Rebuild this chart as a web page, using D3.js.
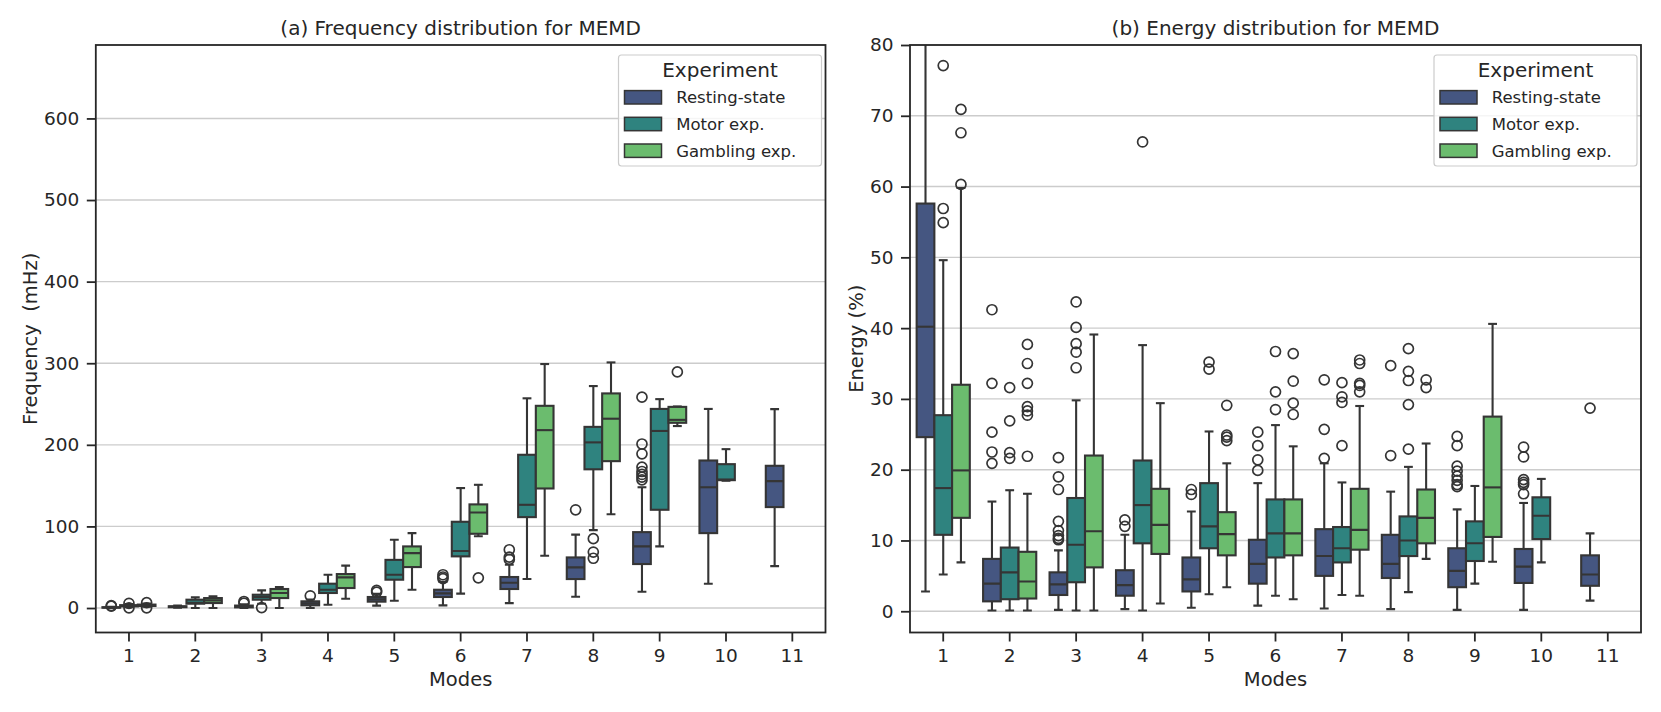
<!DOCTYPE html>
<html><head><meta charset="utf-8">
<script src="https://cdn.jsdelivr.net/npm/d3@7"></script>
<style>
body{margin:0;background:#fff}
text{font-family:"DejaVu Sans",sans-serif;fill:#262626}
</style>
</head><body>
<svg id="c" width="1661" height="712"></svg>
<script>
const modes = ["1","2","3","4","5","6","7","8","9","10","11"];
const experiments = ["Resting-state","Motor exp.","Gambling exp."];
const colors = ["#455681","#2f837f","#6bbc6e"];

// Box stats per mode: [lowWhisker, q1, median, q3, highWhisker]; null = no data
const freqResting = [[0.1,0.4,0.7,1.0,1.5],[0.5,1.0,1.5,2.2,3.0],[0,0.8,1.8,3.0,4.5],[0,3.3,5.7,8.2,10.5],[2.9,7.8,10.6,13.5,17.5],[3.3,13.5,18,22.4,32],[6,23.3,31,38,53],[13.9,35.5,49.8,62,90],[20,53.9,75.5,93,148],[29.8,91.8,148,180.8,244],[51.4,123.7,155.5,174.3,243.7]];
const freqMotor = [[1.0,2.0,2.8,3.5,5.0],[0,5.3,6.5,10.2,13],[5.3,10.2,13.5,16.3,21.6],[4,18.4,22.4,29.8,40.8],[9,34.7,40.8,59,83.7],[17.6,63.3,69.8,105.7,147],[35.5,111.4,126.5,187.8,257],[95.5,170,203,222,272],[75.5,120.4,217,244,256],[156,156.7,157.5,176.3,194.7],null];
const freqGambling = [[1.5,2.5,3.2,4.2,5.5],[0,6.1,9.4,12.2,14.3],[0,12.2,18.4,23.3,25.7],[11.4,24.5,37.6,41.6,52],[22.4,50.2,67.3,75.5,91.8],[88,91,117,127,151],[64,146.5,218,247.8,299],[115,180,232,263,301],[223,227,230.6,246.5,247],null,null];
const freqRestingOut = [[2.2,3.0],[],[6.0,8.0],[15],[19.5,21.6],[36,38,40.8],[59.6,62.4,71.4],[120.4],[157,160.4,163.7,167.3,172.7,189,201,258.4],[],[]];
const freqMotorOut = [[0.2,5.8],[],[0.5],[],[],[],[],[61,68.6,85],[],[],[]];
const freqGamblingOut = [[0.3,6.5],[],[],[],[],[37],[],[],[289.4],[],[]];
const freqTicks = [0,100,200,300,400,500,600];

const energyResting = [[2.8,24.6,40.2,57.6,95],[0.1,1.4,3.9,7.4,15.5],[0.2,2.3,3.8,5.5,8.6],[0.3,2.2,3.7,5.8,10.8],[0.5,2.8,4.5,7.6,14.1],[0.8,3.9,6.7,10.1,18.1],[0.4,5.0,7.8,11.6,20.9],[0.3,4.7,6.7,10.8,16.9],[0.2,3.4,5.7,8.9,14.4],[0.2,4.0,6.3,8.8,15.3],[1.5,3.6,5.2,7.9,11.0]];
const energyMotor = [[5.2,10.8,17.4,27.7,49.6],[0.1,1.7,5.5,9.0,17.1],[0.1,4.1,9.4,16.0,29.8],[0.1,9.6,15.0,21.3,37.6],[2.4,8.9,12.0,18.1,25.4],[2.2,7.6,11.0,15.8,26.3],[2.3,6.9,8.9,11.9,18.2],[2.7,7.8,10.0,13.4,20.4],[3.9,7.1,9.6,12.7,17.7],[6.9,10.2,13.5,16.1,18.7],null];
const energyGambling = [[6.9,13.2,19.9,32.0,59.8],[0.1,1.8,4.2,8.4,16.6],[0.1,6.2,11.3,22.0,39.1],[1.1,8.1,12.2,17.3,29.4],[3.4,7.9,10.9,14.0,20.9],[1.7,7.9,11.0,15.8,23.3],[2.2,8.7,11.5,17.3,29.0],[7.4,9.6,13.2,17.2,23.7],[7.0,10.5,17.5,27.5,40.6],null,null];
const energyRestingOut = [[],[20.9,22.5,25.3,32.2,42.6],[10.1,10.3,10.7,11.4,12.7,17.2,19.0,21.7],[12.0,12.9],[16.5,17.2],[19.9,21.4,23.4,25.3],[21.6,25.7,32.7],[22.0,34.7],[17.6,17.9,18.5,19.1,19.8,20.5,23.4,24.7],[16.6,17.9,18.2,18.6,21.8,23.2],[28.7]];
const energyMotorOut = [[54.9,56.9,77.1],[21.6,22.4,26.9,31.6],[34.4,36.6,37.8,40.1,43.7],[66.3],[34.2,35.2],[28.5,31.0,36.7],[23.4,29.5,30.3,32.3],[22.9,29.2,32.6,33.9,37.1],[],[],[]];
const energyGamblingOut = [[60.3,67.6,70.9],[21.9,27.7,28.3,28.9,32.2,35.0,37.7],[],[],[24.1,24.6,24.9,29.1],[27.8,29.4,32.5,36.4],[31.0,31.9,32.2,35.0,35.5],[31.6,32.7],[],[],[]];
const energyTicks = [0,10,20,30,40,50,60,70,80];

const svg = d3.select("#c");
const LINE = "#353535", AX = "#262626";

function panel(cfg, idx){
  const {x0,x1,y0,y1} = cfg;
  const g = svg.append("g");
  const x = d3.scaleBand().domain(modes).range([x0,x1]).paddingInner(0.2).paddingOuter(0.1);
  const hue = d3.scaleBand().domain(experiments).range([0, x.bandwidth()]);
  const y = d3.scaleLinear().domain(cfg.domain).range([y1,y0]);

  const cid = "clip"+idx;
  svg.append("clipPath").attr("id",cid).append("rect")
    .attr("x",x0).attr("y",y0).attr("width",x1-x0).attr("height",y1-y0);

  // grid
  g.append("g").selectAll("line").data(cfg.ticks).join("line")
    .attr("x1",x0).attr("x2",x1).attr("y1",d=>y(d)).attr("y2",d=>y(d))
    .attr("stroke","#cccccc").attr("stroke-width",1.4);

  const marks = g.append("g").attr("clip-path",`url(#${cid})`);
  const bw = hue.bandwidth();
  cfg.stats.forEach((series, si)=>{
    series.forEach((s, mi)=>{
      if(!s) return;
      const cx = x(modes[mi]) + hue(experiments[si]) + bw/2;
      const [lo,q1,md,q3,hi] = s;
      const gg = marks.append("g").attr("stroke",LINE).attr("stroke-width",2.1);
      gg.append("line").attr("x1",cx).attr("x2",cx).attr("y1",y(q3)).attr("y2",y(hi));
      gg.append("line").attr("x1",cx).attr("x2",cx).attr("y1",y(q1)).attr("y2",y(lo));
      gg.append("line").attr("x1",cx-bw/4).attr("x2",cx+bw/4).attr("y1",y(hi)).attr("y2",y(hi));
      gg.append("line").attr("x1",cx-bw/4).attr("x2",cx+bw/4).attr("y1",y(lo)).attr("y2",y(lo));
      gg.append("rect").attr("x",cx-bw/2).attr("width",bw)
        .attr("y",y(q3)).attr("height",Math.max(0.5,y(q1)-y(q3)))
        .attr("fill",colors[si]);
      gg.append("line").attr("x1",cx-bw/2).attr("x2",cx+bw/2).attr("y1",y(md)).attr("y2",y(md));
      gg.selectAll("circle").data(cfg.outs[si][mi]).join("circle")
        .attr("cx",cx).attr("cy",d=>y(d)).attr("r",5)
        .attr("fill","none").attr("stroke-width",1.7);
    });
  });

  // axes
  const xa = g.append("g").attr("transform",`translate(0,${y1})`)
    .call(d3.axisBottom(x).tickSize(9).tickPadding(7).tickSizeOuter(0));
  const ya = g.append("g").attr("transform",`translate(${x0},0)`)
    .call(d3.axisLeft(y).tickValues(cfg.ticks).tickSize(9).tickPadding(7.5).tickSizeOuter(0));
  [xa,ya].forEach(a=>{
    a.select(".domain").remove();
    a.selectAll(".tick line").attr("stroke",AX).attr("stroke-width",1.8);
    a.selectAll(".tick text").attr("font-size",18.5).attr("fill",AX).attr("font-family","DejaVu Sans");
  });
  g.append("rect").attr("x",x0).attr("y",y0).attr("width",x1-x0).attr("height",y1-y0)
    .attr("fill","none").attr("stroke",AX).attr("stroke-width",1.8);

  g.append("text").attr("x",(x0+x1)/2).attr("y",35).attr("text-anchor","middle")
    .attr("font-size",20).text(cfg.title);
  g.append("text").attr("x",(x0+x1)/2).attr("y",686).attr("text-anchor","middle")
    .attr("font-size",19.5).text("Modes");
  g.append("text").attr("transform",`translate(${cfg.ylx},${(y0+y1)/2}) rotate(-90)`)
    .attr("text-anchor","middle").attr("dominant-baseline","central")
    .attr("font-size",19.5).attr("xml:space","preserve").style("white-space","pre").text(cfg.ylabel);

  // legend
  const lw = 203, lx = x1 - 4 - lw, ly = 55;
  const lg = g.append("g");
  lg.append("rect").attr("x",lx).attr("y",ly).attr("width",lw).attr("height",111).attr("rx",3)
    .attr("fill","white").attr("fill-opacity",0.8).attr("stroke","#cccccc").attr("stroke-width",1.2);
  lg.append("text").attr("x",lx+lw/2).attr("y",ly+22).attr("text-anchor","middle")
    .attr("font-size",20).text("Experiment");
  experiments.forEach((e,i)=>{
    const cy = ly + 42.3 + i*26.7;
    lg.append("rect").attr("x",lx+6).attr("y",cy-6.7).attr("width",37).attr("height",13.4)
      .attr("fill",colors[i]).attr("stroke",LINE).attr("stroke-width",1.5);
    lg.append("text").attr("x",lx+57.7).attr("y",cy+6).attr("font-size",16.5).text(e);
  });
}

panel({x0:95.8,x1:825.5,y0:45,y1:632.5,domain:[-30,690],ticks:freqTicks,
  stats:[freqResting,freqMotor,freqGambling],outs:[freqRestingOut,freqMotorOut,freqGamblingOut],
  title:"(a) Frequency distribution for MEMD", ylabel:"Frequency  (mHz)", ylx:30},0);
panel({x0:910,x1:1641,y0:45,y1:632.5,domain:[-3,80],ticks:energyTicks,
  stats:[energyResting,energyMotor,energyGambling],outs:[energyRestingOut,energyMotorOut,energyGamblingOut],
  title:"(b) Energy distribution for MEMD", ylabel:"Energy (%)", ylx:856},1);
</script>
</body></html>
